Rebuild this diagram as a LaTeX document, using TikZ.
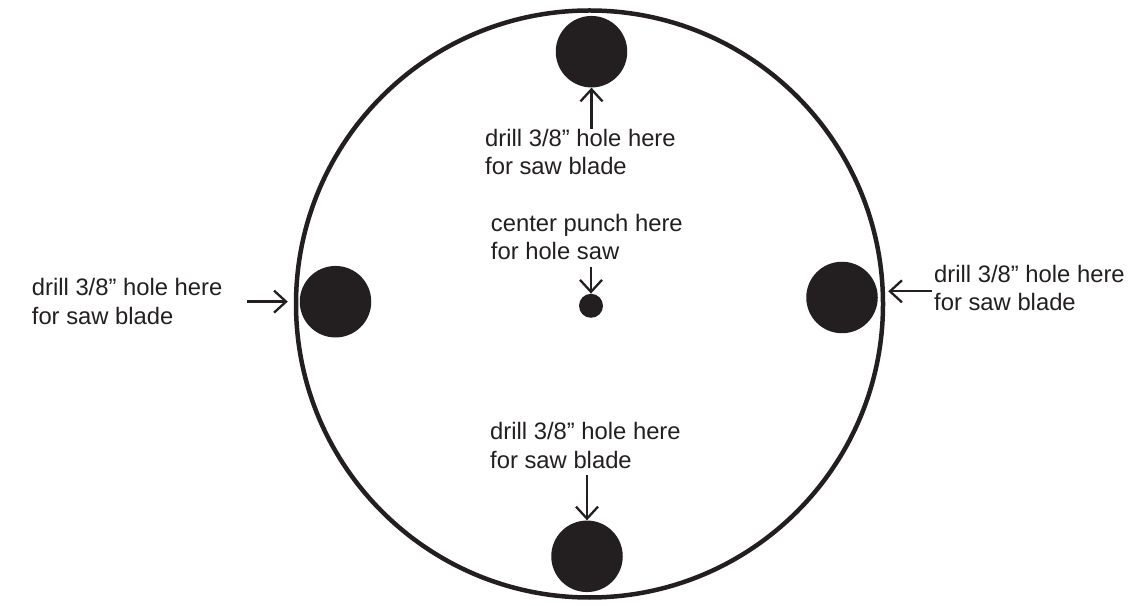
\documentclass[tikz,border=0pt]{standalone}
\usepackage{fontspec}
\setmainfont{Liberation Sans}
\usepackage{tikz}
\usetikzlibrary{arrows.meta}
\definecolor{ink}{HTML}{231F20}
\tikzset{
    hole/.style={circle, fill=ink, inner sep=0pt, minimum size=71.5pt},
    note/.style={align=left, inner sep=0pt, text=ink,
                 font={\fontsize{23.8}{28.3}\selectfont}},
    pointer/.style={-{Straight Barb[length=12pt,width=22pt]}, line width=2.3pt, draw=ink},
}

\begin{document}
\begin{tikzpicture}[x=1pt, y=1pt]
    \useasboundingbox (0,0) rectangle (1129,605);

    % Blank disc
    \node[circle, draw=ink, line width=4.5pt, inner sep=0pt, minimum size=587pt] (rim) at (589.5,301) {};

    % Holes for the saw blade
    \foreach \name/\px/\py in {tophole/591.5/553.3, bothole/587/48.7, lefthole/335.5/303.3, righthole/842/307.5}
        \node[hole] (\name) at (\px,\py) {};

    % Center punch
    \node[circle, fill=ink, inner sep=0pt, minimum size=24pt] (punch) at (591,299.2) {};

    % Labels (base = last line)
    \node[note, anchor=base west] (toptext) at (485,430) {drill 3/8” hole here\\for saw blade};
    \node[note, anchor=base west] (bottext) at (490,136.7) {drill 3/8” hole here\\for saw blade};
    \node[note, anchor=base west] (lefttext) at (31.7,280.7) {drill 3/8” hole here\\for saw blade};
    \node[note, anchor=base west] (righttext) at (934,294) {drill 3/8” hole here\\for saw blade};
    \node[note, anchor=base west] (punchtext) at (490.7,345) {center punch here\\for hole saw};

    % Arrows
    \draw[pointer] (toptext.north -| tophole) -- (tophole.south);
    \draw[pointer, shorten <=6.7pt] (bottext.south -| bothole) -- (bothole.north);
    \draw[pointer, shorten <=6.7pt] (punchtext.south -| punch) -- (punch.north);
    \draw[pointer, shorten <=24pt, shorten >=6pt] (lefttext.east) -- (lefttext.east -| rim.west);
    \draw[pointer, shorten <=2.3pt, shorten >=3pt] ([yshift=-3pt]righttext.west) -- ([yshift=-3pt]righttext.west -| rim.east);
\end{tikzpicture}
\end{document}
